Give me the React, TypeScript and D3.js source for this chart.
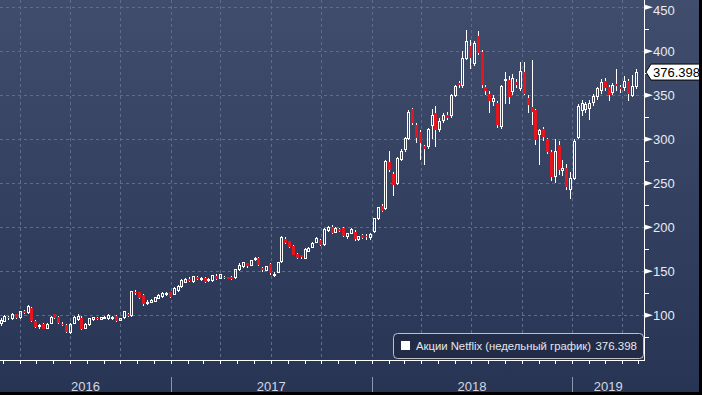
import * as d3 from "d3";

// weekly Netflix candles, first week ends Fri 26 Feb 2016
const firstFriday = Date.UTC(2016, 1, 26);

const opens = [
  91, 93, 98, 96, 101, 97, 105, 103, 108, 94,
  87, 90, 85, 91, 101, 98, 90.5, 89, 81, 91,
  95, 97, 85, 89, 95, 97, 95.5, 97, 96, 97,
  99, 94, 97, 102, 99.5, 127, 126, 123, 114, 115,
  116, 119, 121, 123.5, 126, 124, 128, 132.5, 137.5, 141,
  138, 143, 140.5, 142, 139.5, 139, 145, 142, 144, 143,
  144, 142.5, 151.5, 155.5, 159, 157, 163.5, 164.8, 154, 151,
  158, 146, 149, 161, 187, 184, 179, 170, 168, 165,
  173, 177, 183, 185.7, 180, 196.5, 200.7, 194, 198, 199,
  189, 193, 195, 186, 191, 190.5, 188.5, 195, 209.5, 224,
  221.6, 274.5, 261, 250, 276.5, 288, 301, 334, 316, 308.6,
  292, 291.6, 316, 329.5, 311.4, 321, 328, 326.5, 350, 363.6,
  361.7, 392, 406, 386, 417, 399.5, 360, 352, 343, 341,
  314, 366.5, 367, 354, 365.5, 358, 376.8, 346.6, 337, 333,
  306, 311.4, 300, 286, 257.5, 293.5, 264.3, 267, 242.4, 255.7,
  302, 333, 334, 335, 341.6, 348.4, 355, 366.6, 360, 353,
  363, 359, 359, 366.6, 350, 360.5,
];
const highs = [
  97, 100, 99, 103, 102, 105, 106, 112, 109, 95,
  90, 91, 91, 99, 102, 99, 92, 90, 91, 99,
  101, 99, 91, 97, 98, 98, 98, 99, 101, 99,
  100, 97, 105, 103, 127, 129, 127, 124, 117, 119,
  121, 124, 126, 126, 127, 132, 134, 141, 142, 143,
  145, 145, 143, 143, 142, 146, 147, 147.5, 145, 144,
  145, 153, 159, 161, 160, 163, 166, 166, 155, 156,
  159, 149, 161, 190, 189, 185, 180, 171, 169, 176,
  178, 183, 188.5, 187, 199, 201, 203, 200, 199.5, 200,
  194, 199, 196.5, 190, 192, 192, 193, 210, 223, 227,
  276, 286.7, 263, 280, 289, 303, 333, 336, 318, 311,
  294, 313, 334, 338, 324, 330, 331, 352, 362, 366,
  400, 424, 413, 412, 423, 401, 362, 355, 350, 343,
  362, 377, 372, 374, 368, 388, 388, 350, 390, 335,
  312, 314, 302, 288, 300, 298, 276, 272, 263, 300,
  340, 345, 342, 345, 351, 360, 368, 370, 362, 364,
  380, 362, 372, 369, 373, 380,
];
const lows = [
  88, 92, 95, 95, 96, 96, 102, 102, 92, 86,
  85, 84, 84, 90, 96, 90, 88, 80, 79, 90,
  94, 83, 84, 88, 94, 95, 95, 96, 95, 95,
  92, 93, 96, 98, 98, 123, 119, 111, 112, 114,
  115, 118, 120, 122, 120, 123, 127, 131, 137, 138,
  137, 140, 139, 137, 138, 138, 140, 141, 141, 141,
  140, 141, 150, 154, 154, 156, 162, 156, 149, 150,
  146, 143.5, 148, 160, 181, 177, 168, 164, 164, 164,
  172, 176, 182, 179, 179, 195, 192, 193, 195, 189,
  187, 192, 184, 184, 187, 186, 186, 194, 208, 217,
  220, 263, 235.6, 248, 275, 286, 299, 316, 296, 277,
  271, 289, 300, 291.6, 308, 318, 322, 324, 348, 358,
  358, 390, 380, 383, 396, 358, 350, 330, 338, 313,
  312, 340, 340, 350, 358, 355, 350, 330, 316, 293,
  271, 298, 283, 253, 250, 260, 258, 242, 232, 254,
  300, 326, 330, 322, 338, 345, 352, 355, 344, 350,
  355, 353, 355, 343, 348, 357,
];
const closes = [
  94, 99, 96.5, 101, 97, 104, 103, 110, 93, 87,
  88, 85, 90, 97.5, 97, 91, 89, 81.5, 90, 97,
  99, 84.5, 90, 96, 97, 95.5, 97.5, 98, 100, 98,
  93, 96, 104, 99.5, 126.5, 125, 120, 113, 114.5, 117,
  120, 123, 125, 124.5, 121, 131, 133, 139, 141, 139,
  144, 141, 141.5, 138, 140.5, 145, 141, 146.5, 142, 141.8,
  141, 152, 157, 160, 155.5, 162, 164.3, 157, 151, 155,
  148, 146.5, 160, 188, 182, 178, 169, 165.5, 166, 175,
  176, 182, 187, 180, 198, 199.5, 193, 198.5, 196, 190.5,
  193, 197.5, 186.7, 189, 188, 188.5, 191.5, 209.5, 222, 219,
  274.5, 265, 248, 278, 286, 301, 331, 318, 301, 295.5,
  288.6, 311, 327.6, 311, 320, 326.5, 324, 350, 360, 361.7,
  392, 411, 392, 409, 398, 361.7, 355, 343, 346.5, 316,
  360, 368, 348.5, 369, 361.7, 376.8, 352, 339, 331.4, 299,
  310, 303, 286, 257.5, 286, 265, 267, 246, 255.7, 297,
  337, 341, 339, 341, 348.4, 358, 364, 358, 350, 361.7,
  361, 357.5, 365.5, 352, 360.5, 376.398,
];

const priceTicks = [100, 150, 200, 250, 300, 350, 400, 450];
const minorTicks = [75, 125, 175, 225, 275, 325, 375, 425];
const years = ["2016", "2017", "2018", "2019"];
const legendLabel = "Акции Netflix (недельный график)";
const lastValue = "376.398";

const W = 702;
const H = 395;
const right = 644;
const base = 360;

const x = d3
  .scaleUtc()
  .domain([new Date(Date.UTC(2017, 0, 1)), new Date(Date.UTC(2019, 0, 1))])
  .range([171, 572.3]);
const y = d3.scaleLinear().domain([100, 450]).range([315.3, 7.3]);

const start = x.invert(0);
const end = x.invert(right);

const candles = opens.map((o, i) => ({
  date: new Date(firstFriday + i * 7 * 86400000),
  o,
  h: highs[i],
  l: lows[i],
  c: closes[i],
}));

const px = (v: number) => Math.round(v) + 0.5;

export default function App() {
  const quarters = d3.utcMonth.every(3)!.range(start, end);
  const months = d3.utcMonth.range(start, end);
  const yearStarts = d3.utcYear.range(start, end);
  const bounds = [0, ...yearStarts.map((d) => x(d)), right];
  const lastY = y(closes[closes.length - 1]);
  const font = "'Liberation Sans', Arial, sans-serif";

  return (
    <svg
      width={W}
      height={H}
      style={{ position: "absolute", left: 0, top: 0, display: "block" }}
    >
      <defs>
        <linearGradient id="bg" x1="0" y1="0" x2="0" y2="1">
          <stop offset="0" stopColor="#404d6c" />
          <stop offset="1" stopColor="#273454" />
        </linearGradient>
      </defs>
      <rect width={W} height={H} fill="url(#bg)" />

      {priceTicks.map((v) => (
        <line
          key={"h" + v}
          x1={0}
          x2={right}
          y1={px(y(v))}
          y2={px(y(v))}
          stroke="#5e6d8b"
          strokeDasharray="3,3"
        />
      ))}
      {quarters.map((d) => (
        <line
          key={"v" + d.getTime()}
          x1={px(x(d))}
          x2={px(x(d))}
          y1={0}
          y2={base}
          stroke="#5e6d8b"
          strokeDasharray="3,3"
        />
      ))}

      <g shapeRendering="crispEdges">
        {candles.map((d, i) => {
          const cx = px(x(d.date));
          const up = d.c >= d.o;
          const top = y(Math.max(d.o, d.c));
          const bot = y(Math.min(d.o, d.c));
          const hgt = Math.max(bot - top, 1);
          return (
            <g key={i}>
              <line x1={cx} x2={cx} y1={y(d.h)} y2={top} stroke="#fff" />
              <line x1={cx} x2={cx} y1={bot} y2={y(d.l)} stroke="#fff" />
              {up ? (
                <rect
                  x={cx - 1}
                  y={top}
                  width={2}
                  height={hgt}
                  fill="none"
                  stroke="#fff"
                />
              ) : (
                <rect x={cx - 1.5} y={top} width={3} height={hgt} fill="#e3161e" />
              )}
            </g>
          );
        })}
      </g>

      <line x1={0} x2={right + 1} y1={base + 0.5} y2={base + 0.5} stroke="#fff" />
      <line x1={right + 0.5} x2={right + 0.5} y1={0} y2={base + 1} stroke="#fff" />
      {months.map((d) => (
        <line
          key={"m" + d.getTime()}
          x1={px(x(d))}
          x2={px(x(d))}
          y1={base}
          y2={base + 4}
          stroke="#fff"
        />
      ))}
      {yearStarts.map((d) => (
        <line
          key={"y" + d.getTime()}
          x1={px(x(d))}
          x2={px(x(d))}
          y1={377}
          y2={392}
          stroke="#8c96a9"
        />
      ))}
      {years.map((t, i) => (
        <text
          key={t}
          x={(bounds[i] + bounds[i + 1]) / 2}
          y={391}
          textAnchor="middle"
          fontFamily={font}
          fontSize={13}
          fill="#d3d8e1"
        >
          {t}
        </text>
      ))}

      {minorTicks.map((v) => (
        <line
          key={"n" + v}
          x1={right}
          x2={right + 5}
          y1={px(y(v))}
          y2={px(y(v))}
          stroke="#fff"
        />
      ))}
      {priceTicks.map((v) => (
        <g key={"t" + v}>
          <path
            d={`M${right + 1},${y(v) - 2.5}L${right + 9},${y(v)}L${right + 1},${y(v) + 2.5}Z`}
            fill="#fff"
          />
          <text
            x={653}
            y={Math.max(y(v), 10) + 4.5}
            fontFamily={font}
            fontSize={13}
            fill="#e8ebf0"
          >
            {v}
          </text>
        </g>
      ))}

      <path
        d={`M${right + 2},${lastY}L${right + 7},${lastY - 8}L${W - 1.5},${lastY - 8}L${W - 1.5},${lastY + 8}L${right + 7},${lastY + 8}Z`}
        fill="#fff"
        stroke="#000"
      />
      <text x={653} y={lastY + 4.5} fontFamily={font} fontSize={13} fill="#000">
        {lastValue}
      </text>

      <rect
        x={393.5}
        y={333.5}
        width={250}
        height={25}
        rx={4}
        fill="#222c46"
        stroke="#b9c0cc"
      />
      <rect x={401} y={341} width={9} height={9} fill="#fff" />
      <text
        x={416}
        y={350}
        fontFamily={font}
        fontSize={11.5}
        textLength={175}
        lengthAdjust="spacingAndGlyphs"
        fill="#e3e7ee"
      >
        {legendLabel}
      </text>
      <text
        x={637}
        y={350}
        textAnchor="end"
        fontFamily={font}
        fontSize={11.5}
        fill="#e3e7ee"
      >
        {lastValue}
      </text>

      <rect x={699} y={0} width={3} height={H} fill="#000" />
      <rect x={0} y={392} width={W} height={3} fill="#000" />
    </svg>
  );
}
